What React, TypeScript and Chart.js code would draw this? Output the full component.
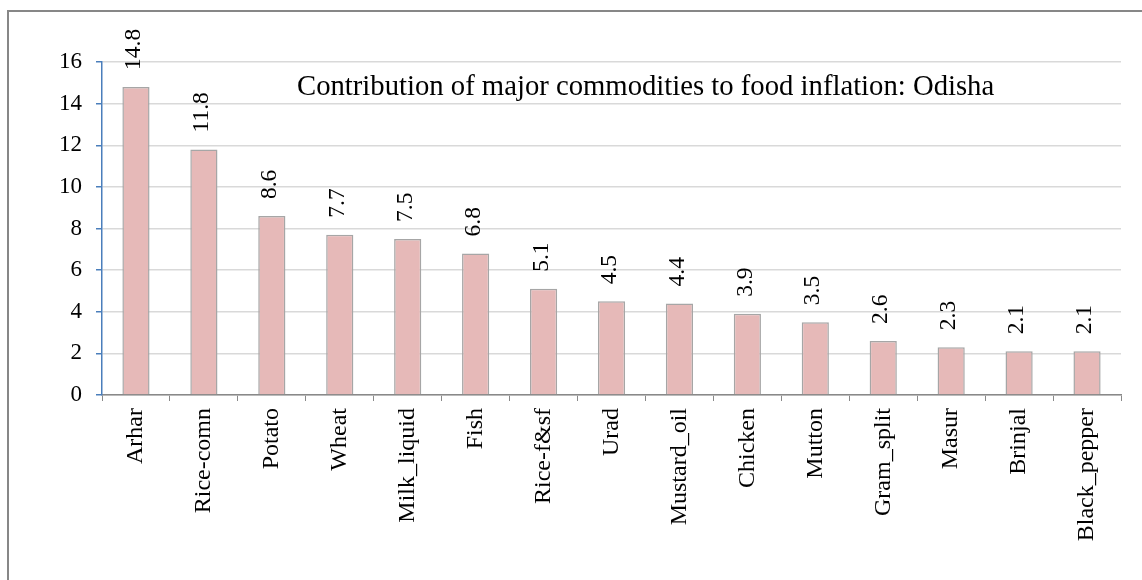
import React, { useEffect, useRef } from "react";
import { Chart, registerables } from "chart.js";

Chart.register(...registerables);

const categories = [
  "Arhar", "Rice-comn", "Potato", "Wheat", "Milk_liquid", "Fish", "Rice-f&sf",
  "Urad", "Mustard_oil", "Chicken", "Mutton", "Gram_split", "Masur", "Brinjal", "Black_pepper",
];
const contribution = [14.8, 11.8, 8.6, 7.7, 7.5, 6.8, 5.1, 4.5, 4.4, 3.9, 3.5, 2.6, 2.3, 2.1, 2.1];
const yTicks = [0, 2, 4, 6, 8, 10, 12, 14, 16];
const chartTitle = "Contribution of major commodities to food inflation: Odisha";

const FONT = "'Liberation Serif', 'Times New Roman', serif";

const framePlugin = {
  id: "frame",
  beforeDraw(chart: any) {
    const { ctx } = chart;
    ctx.save();
    ctx.strokeStyle = "#878787";
    ctx.lineWidth = 2;
    ctx.beginPath();
    ctx.moveTo(8, 600);
    ctx.lineTo(8, 11);
    ctx.lineTo(1160, 11);
    ctx.stroke();
    ctx.restore();
  },
};

const labelsPlugin = {
  id: "barLabels",
  afterDatasetsDraw(chart: any) {
    const { ctx, chartArea } = chart;
    const meta = chart.getDatasetMeta(0);
    ctx.save();
    ctx.font = `23.5px ${FONT}`;
    ctx.fillStyle = "#000";
    ctx.textAlign = "left";
    ctx.textBaseline = "middle";
    meta.data.forEach((bar: any, i: number) => {
      const v = chart.data.datasets[0].data[i];
      ctx.save();
      ctx.translate(bar.x - 2, bar.y - 17);
      ctx.rotate(-Math.PI / 2);
      ctx.fillText(v.toFixed(1), 0, 0);
      ctx.restore();
    });
    // title inside plot
    ctx.font = `28.7px ${FONT}`;
    ctx.textBaseline = "alphabetic";
    ctx.fillText(chartTitle, chartArea.left + 195, chartArea.top + 33);
    ctx.restore();
  },
};

export default function App() {
  const ref = useRef<HTMLCanvasElement | null>(null);
  useEffect(() => {
    if (!ref.current) return;
    const chart = new Chart(ref.current, {
      type: "bar",
      data: {
        labels: categories,
        datasets: [
          {
            data: contribution,
            backgroundColor: "#e6b9b8",
            borderColor: "#a6a6a6",
            borderWidth: 1.5,
            barPercentage: 0.4,
            categoryPercentage: 1,
          },
        ],
      },
      options: {
        responsive: false,
        animation: false,
        devicePixelRatio: 1,
        layout: { padding: { top: 62, right: 21, left: 0, bottom: 0 } },
        plugins: { legend: { display: false }, title: { display: false }, tooltip: { enabled: false } },
        scales: {
          x: {
            offset: true,
            grid: {
              display: true,
              drawOnChartArea: false,
              offset: true,
              color: "#898989",
              tickColor: "#898989",
              tickLength: 6,
            },
            border: { color: "#898989", width: 1.5 },
            ticks: {
              color: "#000",
              font: { family: FONT, size: 24 },
              minRotation: 90,
              maxRotation: 90,
              padding: 7,
              autoSkip: false,
            },
            afterFit(scale: any) {
              scale.height = 185;
            },
          },
          y: {
            min: 0,
            max: 16,
            afterBuildTicks(scale: any) {
              scale.ticks = yTicks.map((v) => ({ value: v }));
            },
            grid: { color: "#d9d9d9", tickColor: "#4a7ebb", tickLength: 6, lineWidth: 1.5 },
            border: { color: "#4a7ebb", width: 1.5 },
            ticks: { color: "#000", font: { family: FONT, size: 23 }, padding: 14 },
            afterFit(scale: any) {
              scale.width = 102;
            },
          },
        },
      },
      plugins: [framePlugin, labelsPlugin],
    });
    return () => chart.destroy();
  }, []);
  return (
    <div style={{ position: "absolute", left: 0, top: 0, width: 1142, height: 580, background: "#fff" }}>
      <canvas ref={ref} width={1142} height={580} style={{ display: "block", width: 1142, height: 580 }} />
    </div>
  );
}
